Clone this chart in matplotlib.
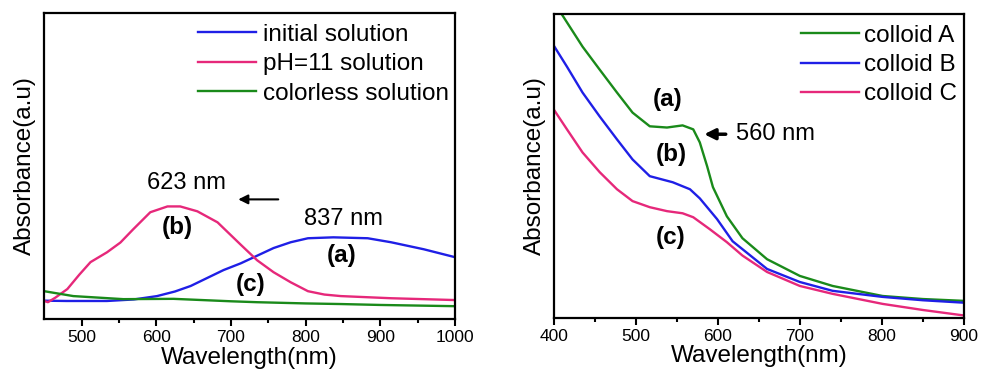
import matplotlib
matplotlib.use("Agg")
import matplotlib.pyplot as plt

plt.rcParams['font.family'] = ['Liberation Sans', 'DejaVu Sans']

# left panel: solutions
wl_init = [450, 480, 534, 570, 601, 625, 646, 668, 690, 713, 735, 757, 780, 803, 837, 883, 914, 958, 1000]
abs_init = [0.060, 0.059, 0.059, 0.064, 0.075, 0.090, 0.108, 0.134, 0.160, 0.182, 0.207, 0.232, 0.251, 0.264,
            0.267, 0.264, 0.251, 0.228, 0.202]

wl_ph11 = [450, 455, 465, 481, 497, 512, 534, 552, 569, 592, 615, 632, 655, 682, 713, 735, 757, 780, 803, 825,
           847, 914, 1000]
abs_ph11 = [0.059, 0.055, 0.070, 0.098, 0.145, 0.186, 0.218, 0.250, 0.293, 0.349, 0.368, 0.368, 0.352, 0.316,
            0.243, 0.192, 0.153, 0.120, 0.091, 0.080, 0.075, 0.068, 0.062]

wl_clear = [450, 489, 556, 623, 700, 735, 800, 847, 900, 1000]
abs_clear = [0.091, 0.075, 0.065, 0.066, 0.058, 0.055, 0.051, 0.049, 0.046, 0.042]

# right panel: colloids
wl_a = [400, 410, 435, 456, 477, 496, 517, 538, 557, 570, 578, 587, 594, 611, 630, 660, 700, 740, 801, 850, 900]
abs_a = [1.040, 0.997, 0.892, 0.816, 0.741, 0.675, 0.630, 0.626, 0.633, 0.620, 0.577, 0.498, 0.430, 0.334,
         0.262, 0.193, 0.138, 0.105, 0.072, 0.062, 0.056]

wl_b = [400, 416, 435, 456, 477, 496, 517, 545, 566, 578, 599, 618, 660, 700, 740, 801, 850, 900]
abs_b = [0.895, 0.826, 0.741, 0.662, 0.587, 0.521, 0.466, 0.446, 0.423, 0.393, 0.325, 0.252, 0.161, 0.118,
         0.089, 0.069, 0.058, 0.050]

wl_c = [400, 416, 435, 456, 477, 496, 517, 538, 557, 570, 590, 611, 630, 660, 700, 740, 801, 850, 900]
abs_c = [0.685, 0.620, 0.544, 0.479, 0.423, 0.384, 0.364, 0.351, 0.344, 0.331, 0.292, 0.249, 0.205, 0.151,
         0.105, 0.079, 0.046, 0.026, 0.008]

blue = '#1f1fe6'
pink = '#e6287a'
green = '#1a8a1a'

fig = plt.figure(figsize=(9.82, 3.83), dpi=100)
ax1 = fig.add_axes([0.045, 0.167, 0.4185, 0.799])
ax2 = fig.add_axes([0.564, 0.170, 0.4175, 0.794])


def style(ax, xlim, major, minor):
    ax.set_xlim(*xlim)
    ax.set_ylim(0, 1)
    ax.set_yticks([])
    ax.set_xticks(major)
    ax.set_xticks(minor, minor=True)
    ax.tick_params(axis='x', which='major', length=5, width=1.5, labelsize=12.5, pad=3)
    ax.tick_params(axis='x', which='minor', length=3, width=1.5)
    for s in ax.spines.values():
        s.set_linewidth(1.6)
    ax.set_xlabel('Wavelength(nm)', fontsize=17.5, labelpad=1)
    ax.set_ylabel('Absorbance(a.u)', fontsize=17.5, labelpad=6)


lw = 1.7
ax1.plot(wl_init, abs_init, color=blue, lw=lw, label='initial solution')
ax1.plot(wl_ph11, abs_ph11, color=pink, lw=lw, label='pH=11 solution')
ax1.plot(wl_clear, abs_clear, color=green, lw=lw, label='colorless solution')
style(ax1, (450, 1000), [500, 600, 700, 800, 900, 1000], [550, 650, 750, 850, 950])
ax1.legend(loc='upper right', bbox_to_anchor=(1.012, 1.0), frameon=False, fontsize=17.5, handlelength=2.4,
           handletextpad=0.3, labelspacing=0.3, borderaxespad=0.25, borderpad=0.2)

ax1.text(641, 0.446, '623 nm', fontsize=17, ha='center', va='center')
ax1.text(851, 0.326, '837 nm', fontsize=17, ha='center', va='center')
ax1.text(628, 0.299, '(b)', fontsize=17.5, fontweight='bold', ha='center', va='center')
ax1.text(848, 0.207, '(a)', fontsize=17.5, fontweight='bold', ha='center', va='center')
ax1.text(726, 0.114, '(c)', fontsize=17.5, fontweight='bold', ha='center', va='center')
ax1.annotate('', xy=(706, 0.391), xytext=(767, 0.391),
             arrowprops=dict(arrowstyle='-|>', color='black', lw=1.5, mutation_scale=14))

ax2.plot(wl_a, abs_a, color=green, lw=lw, label='colloid A')
ax2.plot(wl_b, abs_b, color=blue, lw=lw, label='colloid B')
ax2.plot(wl_c, abs_c, color=pink, lw=lw, label='colloid C')
style(ax2, (400, 900), [400, 500, 600, 700, 800, 900], [450, 550, 650, 750, 850])
ax2.legend(loc='upper right', bbox_to_anchor=(1.01, 1.0), frameon=False, fontsize=17.5, handlelength=2.4,
           handletextpad=0.2, labelspacing=0.3, borderaxespad=0.25, borderpad=0.2)

ax2.text(539, 0.719, '(a)', fontsize=17.5, fontweight='bold', ha='center', va='center')
ax2.text(543, 0.538, '(b)', fontsize=17.5, fontweight='bold', ha='center', va='center')
ax2.text(543, 0.265, '(c)', fontsize=17.5, fontweight='bold', ha='center', va='center')
ax2.text(622, 0.604, '560 nm', fontsize=17, ha='left', va='center')
ax2.annotate('', xy=(580, 0.604), xytext=(613, 0.604),
             arrowprops=dict(arrowstyle='-|>', color='black', lw=2.5, mutation_scale=16))

fig.savefig('out.png', dpi=100)
